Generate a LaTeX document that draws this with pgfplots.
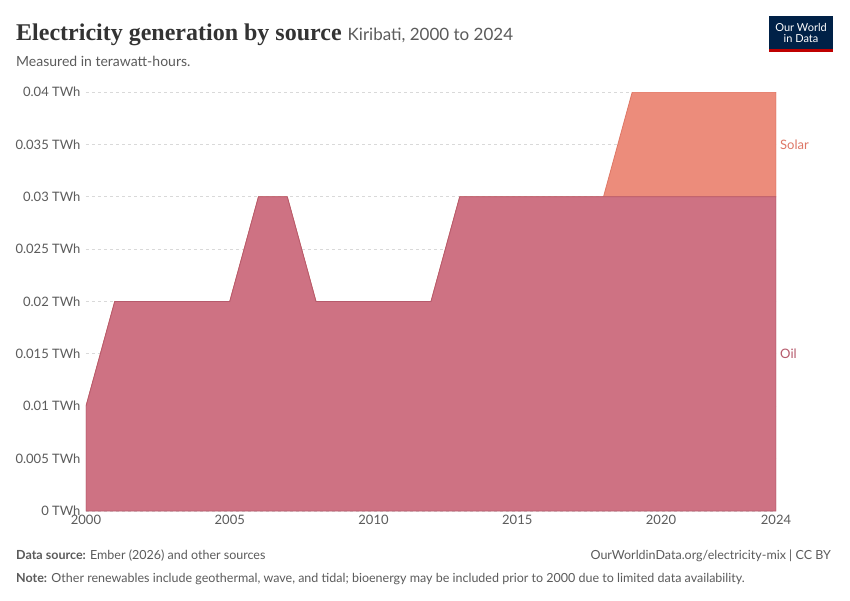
\documentclass[border=0pt]{standalone}
\usepackage{pgfplots}
\pgfplotsset{compat=1.18}
\usepackage{fontspec}
\setmainfont{Lato}
\newfontfamily\titlefont{Liberation Serif}
\definecolor{oilc}{HTML}{CE7283}
\definecolor{oill}{HTML}{B65A6C}
\definecolor{solc}{HTML}{EC8C7B}
\definecolor{soll}{HTML}{DE7766}
\definecolor{txt}{HTML}{5B5B5B}
\definecolor{navy}{HTML}{002147}
\begin{document}
\begin{tikzpicture}
\path[fill=white] (0pt,0pt) rectangle (850pt,600pt);
\begin{axis}[at={(86pt,89pt)},anchor=south west,scale only axis,width=690pt,height=419pt,
 xmin=2000,xmax=2024,ymin=0,ymax=0.04,
 axis line style={draw=none},
 scaled y ticks=false,
 ytick={0,0.005,0.01,0.015,0.02,0.025,0.03,0.035,0.04},
 yticklabels={0 TWh,0.005 TWh,0.01 TWh,0.015 TWh,0.02 TWh,0.025 TWh,0.03 TWh,0.035 TWh,0.04 TWh},
 xtick={2000,2005,2010,2015,2020,2024},
 xticklabels={2000,2005,2010,2015,2020,2024},
 /pgf/number format/assume math mode=true,
 tick style={draw=none},
 ymajorgrids, grid style={dashed,draw=black!15,line width=0.8},
 ticklabel style={font=\fontsize{13}{13}\selectfont,text=txt},
 yticklabel style={xshift=-2pt},
 xticklabel style={yshift=-1pt},
 stack plots=y]
\addplot[fill=oilc,draw=oill,line width=0.8] coordinates {(2000,0.01)(2001,0.02)(2002,0.02)(2003,0.02)(2004,0.02)(2005,0.02)(2006,0.03)(2007,0.03)(2008,0.02)(2009,0.02)(2010,0.02)(2011,0.02)(2012,0.02)(2013,0.03)(2014,0.03)(2015,0.03)(2016,0.03)(2017,0.03)(2018,0.03)(2019,0.03)(2020,0.03)(2021,0.03)(2022,0.03)(2023,0.03)(2024,0.03)} \closedcycle;
\addplot[fill=solc,draw=soll,line width=0.8] coordinates {(2000,0)(2001,0)(2002,0)(2003,0)(2004,0)(2005,0)(2006,0)(2007,0)(2008,0)(2009,0)(2010,0)(2011,0)(2012,0)(2013,0)(2014,0)(2015,0)(2016,0)(2017,0)(2018,0)(2019,0.01)(2020,0.01)(2021,0.01)(2022,0.01)(2023,0.01)(2024,0.01)} \closedcycle;
\end{axis}
\node[anchor=base west,inner sep=0] at (16pt,559pt) {\titlefont\bfseries\fontsize{24}{24}\selectfont\color{black!80}Electricity generation by source \color{txt}\mdseries\fontspec{Lato}\fontsize{17}{17}\selectfont Kiribati, 2000 to 2024};
\node[anchor=base west,inner sep=0] at (16pt,533pt) {\fontsize{14}{14}\selectfont\color{txt}Measured in terawatt-hours.};
\node[anchor=west,inner sep=0] at (780pt,455pt) {\fontsize{13}{13}\selectfont\color{soll}Solar};
\node[anchor=west,inner sep=0] at (780pt,246pt) {\fontsize{13}{13}\selectfont\color{oill}Oil};
\fill[navy] (769pt,550pt) rectangle (833pt,584pt);
\fill[red!75!black] (769pt,548pt) rectangle (833pt,550.5pt);
\node[align=center,text=white,inner sep=0,font=\fontsize{11}{11}\selectfont] at (801pt,567pt) {Our World\\in Data};
\node[anchor=base west,inner sep=0] at (16pt,41pt) {\fontsize{12.5}{12.5}\selectfont\color{txt}\textbf{Data source:} Ember (2026) and other sources};
\node[anchor=base east,inner sep=0] at (831pt,41pt) {\fontsize{12.5}{12.5}\selectfont\color{txt}OurWorldinData.org/electricity-mix | CC BY};
\node[anchor=base west,inner sep=0] at (16pt,18pt) {\fontsize{12.5}{12.5}\selectfont\color{txt}\textbf{Note:} Other renewables include geothermal, wave, and tidal; bioenergy may be included prior to 2000 due to limited data availability.};
\end{tikzpicture}
\end{document}
